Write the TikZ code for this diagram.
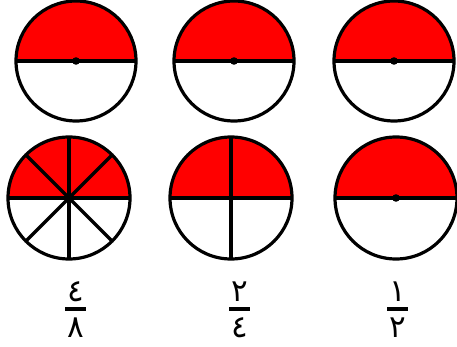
\documentclass[tikz,border=0pt]{standalone}
\usepackage{fontspec}
\usetikzlibrary{calc}
\newfontfamily\arabicfont[Script=Arabic]{DejaVu Sans}
\TeXXeTstate=1
\begin{document}
\begin{tikzpicture}[x=1pt,y=-1pt,
  edge/.style={line width=3.2pt,black},
  half/.style={fill=red},
  digit/.style={font=\arabicfont\fontsize{31}{31}\selectfont,inner sep=0pt},
  fbar/.style={fill=black}]
\useasboundingbox (0,0) rectangle (457,347);
% top row
\foreach \cx/\cy/\r [count=\i] in {76/61/60, 234/61/60, 394/61/60}{
  \coordinate (t\i) at (\cx,\cy);
  \fill[half] (t\i) ++(-\r,0) arc[start angle=180,end angle=360,radius=\r] -- cycle;
  \draw[edge] (t\i) circle[radius=\r];
  \draw[edge] ($(t\i)+(-\r,0)$) -- ($(t\i)+(\r,0)$);
  \fill (t\i) circle[radius=3.8];
}
% bottom row
\coordinate (b1) at (69,198);
\coordinate (b2) at (231,198);
\coordinate (b3) at (396,198);
\foreach \i in {1,2,3}{
  \fill[half] (b\i) ++(-61,0) arc[start angle=180,end angle=360,radius=61] -- cycle;
  \draw[edge] (b\i) circle[radius=61];
  \draw[edge] ($(b\i)+(-61,0)$) -- ($(b\i)+(61,0)$);
}
\fill (b3) circle[radius=3.8];
\foreach \a in {45,90,135,225,270,315}{
  \draw[edge] (b1) -- ++(\a:-61);
}
\draw[edge] ($(b2)+(0,-61)$) -- ($(b2)+(0,61)$);
\fill (b2) circle[radius=3];
\fill (b1) circle[radius=3];
% fractions
\foreach \x/\n/\d [count=\i] in {75.5/٤/٨, 239.5/٢/٤, 397.5/١/٢}{
  \fill[fbar] (\x-10.5,307) rectangle (\x+10.5,311);
  \node[digit] (n\i) at (\x,292) {\beginR\n\endR};
  \node[digit] (d\i) at (\x,328) {\beginR\d\endR};
}
\end{tikzpicture}
\end{document}
